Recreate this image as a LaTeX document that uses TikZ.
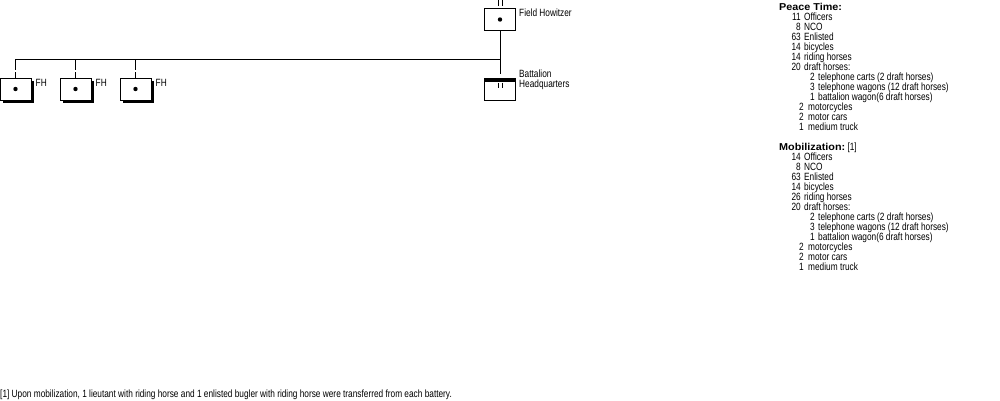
\documentclass[tikz,border=0pt]{standalone}
\usepackage{fontspec}
\setmainfont{Liberation Sans}
\newfontfamily\orgfont[FakeStretch=0.79]{Liberation Sans}
\newfontfamily\headfont[FakeStretch=1.08]{Liberation Sans}
\usetikzlibrary{shadows}

\tikzset{
    unit/.style={draw, line width=1pt, fill=white, minimum width=31pt, minimum height=22pt, inner sep=0pt},
    battery/.style={unit, drop shadow={shadow xshift=3pt, shadow yshift=-3pt, fill=black, opacity=1}},
    lbl/.style={inner sep=0pt, anchor=base west, font=\orgfont\fontsize{10.5}{10}\selectfont},
    num/.style={lbl, anchor=base east},
    head/.style={lbl, font=\headfont\fontsize{10}{10}\selectfont\bfseries},
    link/.style={line width=1pt},
}

\begin{document}
\begin{tikzpicture}[x=1pt, y=-1pt]
    \useasboundingbox (0,0) rectangle (1000,400);

    % battalion
    \node[unit] (fhbn) at (500,19.5) {};
    \node[unit] (hq) at (500,89) {};
    \node[lbl] (fhbnlbl) at (519,16) {Field Howitzer};
    \node[lbl, align=left] (hqlbl) at (519,87) {Battalion\\[-0.5pt]Headquarters};
    \fill (fhbn.center) circle (2.2pt);
    \fill (hq.north west) rectangle ([yshift=-4pt]hq.north east);
    \draw[link] ([xshift=-2pt,yshift=2pt]fhbn.north) -- ++(0,-6);
    \draw[link] ([xshift=2pt,yshift=2pt]fhbn.north) -- ++(0,-6);
    \draw[link] ([xshift=-2pt,yshift=-5pt]hq.north) -- ++(0,5);
    \draw[link] ([xshift=2pt,yshift=-5pt]hq.north) -- ++(0,5);

    % batteries
    \foreach \x [count=\i] in {15.5,75.5,135.5} {
        \node[battery] (fh\i) at (\x,89) {};
        \fill (fh\i.center) circle (2.2pt);
        \node[lbl] (fhlbl\i) at ([xshift=4pt]fh\i.north east |- 0,86) {FH};
        \coordinate (bar\i) at (\x,59);
        \draw[link, dash pattern=on 11pt off 2pt on 20pt off 0pt] (bar\i) -- (fh\i.north);
    }
    \coordinate (barend) at (500,59);
    \coordinate (hqtop) at (500,74);
    \draw[link] (bar1) -- (barend);
    \draw[link] (fhbn.south) -- (hqtop);

    % peace time
    \node[head] (pthead) at (779,10) {Peace Time:};
    \foreach \nx/\tx/\n/\t [count=\i, evaluate=\i as \y using 10+10*\i] in {
        801/804/11/Officers, 801/804/8/NCO, 801/804/63/Enlisted,
        801/804/14/bicycles, 801/804/14/riding horses, 801/804/20/draft horses:,
        815/818/2/telephone carts (2 draft horses),
        815/818/3/telephone wagons (12 draft horses),
        815/818/1/battalion wagon(6 draft horses),
        804/808/2/motorcycles, 804/808/2/motor cars, 804/808/1/medium truck} {
        \node[num] (pn\i) at (\nx,\y) {\n};
        \node[lbl] (pt\i) at (\tx,\y) {\t};
    }

    % mobilization
    \node[head] (mbhead) at (779,150) {Mobilization:\normalfont\orgfont\fontsize{10.5}{10}\selectfont\ [1]};
    \foreach \nx/\tx/\n/\t [count=\i, evaluate=\i as \y using 150+10*\i] in {
        801/804/14/Officers, 801/804/8/NCO, 801/804/63/Enlisted,
        801/804/14/bicycles, 801/804/26/riding horses, 801/804/20/draft horses:,
        815/818/2/telephone carts (2 draft horses),
        815/818/3/telephone wagons (12 draft horses),
        815/818/1/battalion wagon(6 draft horses),
        804/808/2/motorcycles, 804/808/2/motor cars, 804/808/1/medium truck} {
        \node[num] (mn\i) at (\nx,\y) {\n};
        \node[lbl] (mt\i) at (\tx,\y) {\t};
    }

    % footnote
    \node[lbl] (note) at (0,397) {[1] Upon mobilization, 1 lieutant with riding horse and 1 enlisted bugler with riding horse were transferred from each battery.};
\end{tikzpicture}
\end{document}
